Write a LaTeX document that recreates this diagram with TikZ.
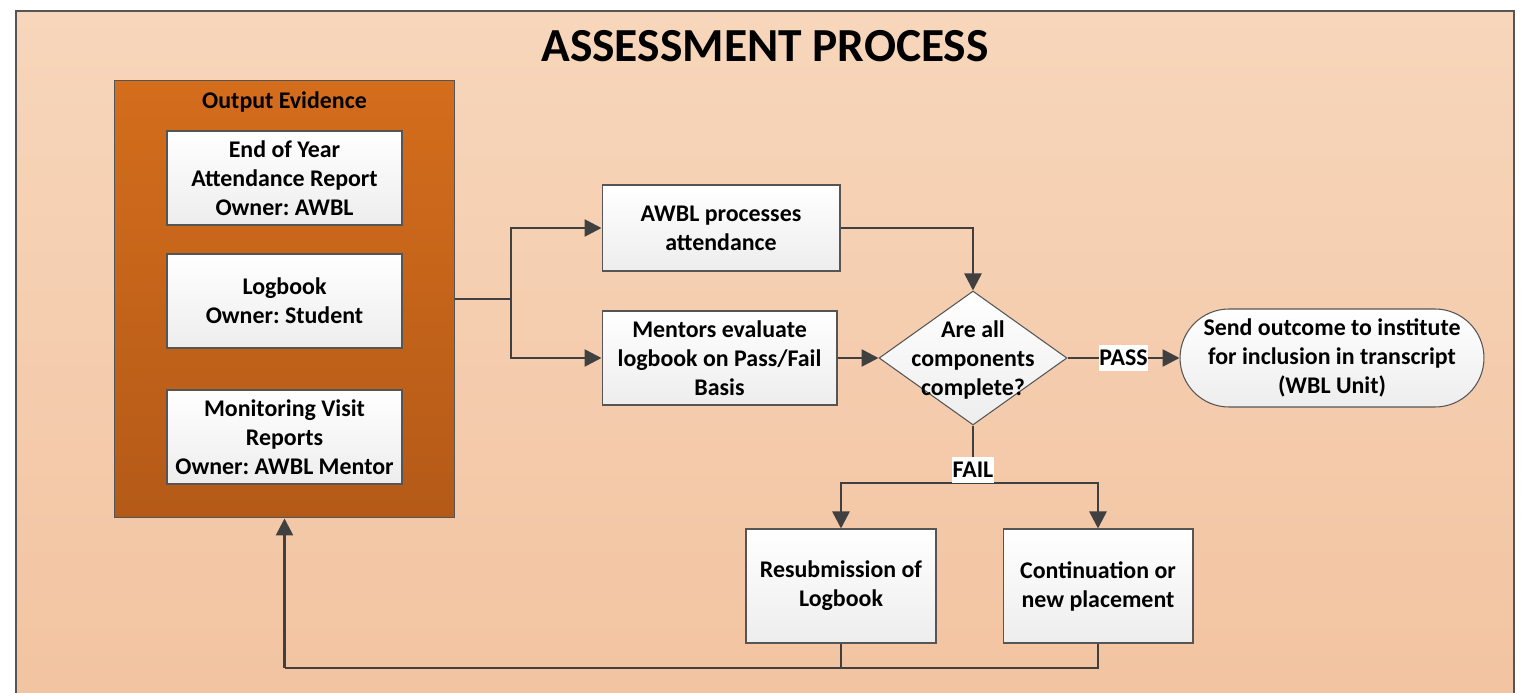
\documentclass[tikz,border=0pt]{standalone}
\usepackage{fontspec}
\setmainfont{Carlito}
\frenchspacing
\usetikzlibrary{positioning}
\usetikzlibrary{arrows.meta}
\usetikzlibrary{shapes.geometric}

\definecolor{pagetop}{HTML}{F7D6BB}
\definecolor{pagebot}{HTML}{F2C3A0}
\definecolor{evtop}{HTML}{D46D1C}
\definecolor{evbot}{HTML}{B45A18}
\definecolor{wire}{HTML}{404040}
\definecolor{edge}{HTML}{555555}

\begin{document}
\begin{tikzpicture}[x=0.02cm, y=-0.02cm,
  txt/.style={font=\fontsize{13.6}{16.5}\selectfont\bfseries, align=center},
  stepbox/.style={txt, draw=edge, line width=0.6pt, top color=white, bottom color=black!7, inner sep=0pt},
  wireline/.style={draw=wire, line width=1.5pt},
  wirearrow/.style={wireline, -{Triangle[length=0.34cm, width=0.34cm]}},
  tag/.style={txt, fill=white, inner xsep=0.5pt, inner ysep=3pt}]

	% page size and background
	\useasboundingbox (0,0) rectangle (1522,693);
	\clip (0,0) rectangle (1522,693);
	\draw[draw=edge, line width=0.8pt, top color=pagetop, bottom color=pagebot] (16,11) rectangle (1514,720);

	\node[font=\fontsize{27}{32}\selectfont\bfseries] (title) at (765,46) {ASSESSMENT PROCESS};

	% output evidence column
	\node[draw=edge, line width=0.6pt, top color=evtop, bottom color=evbot, minimum width=6.82cm, minimum height=8.76cm] (evid) at (284.5,299) {};
	\node[txt] (evtitle) at (284.5,102) {Output Evidence};
	\foreach \n/\y/\lines in {1/178/{End of Year\\Attendance Report\\Owner: AWBL}, 2/301/{Logbook\\Owner: Student}, 3/437/{Monitoring Visit\\Reports\\Owner: AWBL Mentor}} {
		\node[stepbox, minimum width=4.7cm, minimum height=1.88cm] (ev\n) at (284.5,\y) {\lines};
	}

	% process steps
	\node[stepbox, minimum width=4.76cm, minimum height=1.72cm] (awbl) at (721,228) {AWBL processes\\attendance};
	\node[stepbox, minimum width=4.7cm, minimum height=1.88cm] (mentor) at (719.5,358) {Mentors evaluate\\logbook on Pass/Fail\\Basis};
	\node[stepbox, diamond, minimum width=3.76cm, minimum height=2.68cm] (check) at (973,358) {};
	\node[txt] (checktext) at (973,360) {Are all\\components\\complete?};
	\node[stepbox, rounded corners=0.98cm, minimum width=6.08cm, minimum height=1.96cm] (send) at (1332,358) {Send outcome to institute\\for inclusion in transcript\\(WBL Unit)};
	\node[stepbox, minimum width=3.8cm, minimum height=2.28cm] (resub) at (841,586) {Resubmission of\\Logbook};
	\node[stepbox, minimum width=3.8cm, minimum height=2.28cm] (cont) at (1098,586) {Continuation or\\new placement};

	% connectors
	\coordinate (split) at (511,299);
	\draw[wireline] (evid.east) -- (split);
	\draw[wirearrow] (split) |- (awbl.west);
	\draw[wirearrow] (split) |- (mentor.west);
	\draw[wirearrow] (awbl.east) -| (check.north);
	\draw[wirearrow] (mentor.east) -- (check.west);
	\draw[wirearrow] (check.east) -- node[tag] (passtag) {PASS} (send.west);

	\coordinate (fail) at (973,483);
	\draw[wireline] (check.south) -- (fail);
	\draw[wirearrow] (fail) -| (resub.north);
	\draw[wirearrow] (fail) -| (cont.north);
	\node[tag, above] (failtag) at (fail) {FAIL};

	% back to the evidence
	\coordinate (back) at (284.5,668);
	\draw[wireline] (resub.south) -- (resub.south |- back);
	\draw[wireline] (cont.south) |- (back);
	\draw[wirearrow] (back) -- (evid.south);

\end{tikzpicture}
\end{document}
